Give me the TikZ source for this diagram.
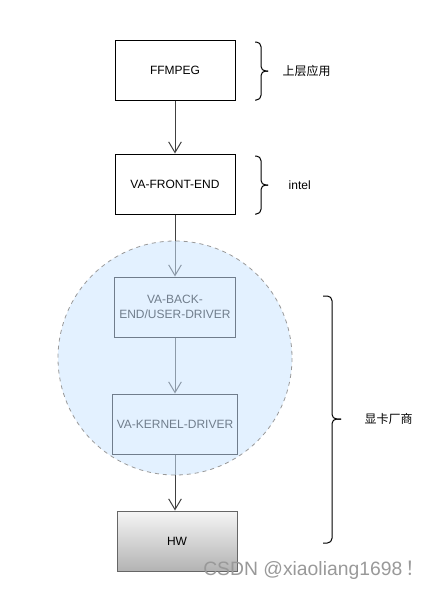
\documentclass[tikz,border=0pt]{standalone}
\usepackage{fontspec}
\setmainfont{Liberation Sans}
\newfontfamily\cjk{Noto Sans CJK SC}
\usetikzlibrary{arrows.meta, positioning}
\definecolor{edgegray}{HTML}{666666}
\definecolor{ringblue}{HTML}{CCE5FF}
\definecolor{ringline}{HTML}{999999}
\definecolor{hwtop}{HTML}{F5F5F5}
\definecolor{hwbot}{HTML}{B3B3B3}

\begin{document}
\begin{tikzpicture}[
  x=0.75pt, y=-0.75pt,
  >={Straight Barb[length=8pt, width=9.5pt]},
  blk/.style={draw=black, line width=0.75pt, minimum width=90pt,
    minimum height=45pt, font=\fontsize{9}{11}\selectfont, align=center},
  flow/.style={->, black!75, line width=0.75pt},
  brc/.style={black, line width=0.75pt, rounded corners=3.5pt},
  lbl/.style={anchor=west, font=\fontsize{9}{11}\selectfont},
]
\useasboundingbox (0,0) rectangle (429,590);

% ══════════════════════════════════════════════════════
% Layer boxes
% ══════════════════════════════════════════════════════
\node[blk] (ffmpeg) at (175,70) {FFMPEG};
\node[blk] (frontend) at (175,184) {VA-FRONT-END};
\node[blk] (backend) at (175,307) {VA-BACK-\\END/USER-DRIVER};
\node[blk] (kernel) at (175,424) {VA-KERNEL-DRIVER};
\node[blk, draw=edgegray, top color=hwtop, bottom color=hwbot]
  (hw) at (177,541) {HW};

% ══════════════════════════════════════════════════════
% Arrows
% ══════════════════════════════════════════════════════
\draw[flow] (ffmpeg) -- (frontend);
\draw[flow] (frontend) -- (backend);
\draw[flow] (backend) -- (kernel);
\draw[flow] (kernel.south) -- (kernel.south |- hw.north);

% ══════════════════════════════════════════════════════
% Vendor ring (translucent, over the driver boxes)
% ══════════════════════════════════════════════════════
\fill[ringblue, fill opacity=0.55] (175,358) circle (117);
\draw[ringline, dashed, line width=0.6pt] (175,358) circle (117);

% ══════════════════════════════════════════════════════
% Braces and their labels
% ══════════════════════════════════════════════════════
\draw[brc] (255,42) -| (261,71) -- (268,71);
\draw[brc] (255,100) -| (261,71) -- (268,71);
\node[lbl] (applbl) at (278,71) {\cjk 上层应用};

\draw[brc] (255,156) -| (261,185) -- (268,185);
\draw[brc] (255,214) -| (261,185) -- (268,185);
\node[lbl] (intellbl) at (284,185) {intel};

\draw[brc] (323,296) -| (332,419) -- (341,419);
\draw[brc] (323,543) -| (332,419) -- (341,419);
\node[lbl] (gpulbl) at (360,419) {\cjk 显卡厂商};

% ══════════════════════════════════════════════════════
% Watermark
% ══════════════════════════════════════════════════════
\node[anchor=west, black!40, font=\fontsize{14.5}{16}\selectfont,
  inner sep=0pt] (mark) at (203,570) {CSDN @xiaoliang1698\,{\cjk ！}};

\end{tikzpicture}
\end{document}
